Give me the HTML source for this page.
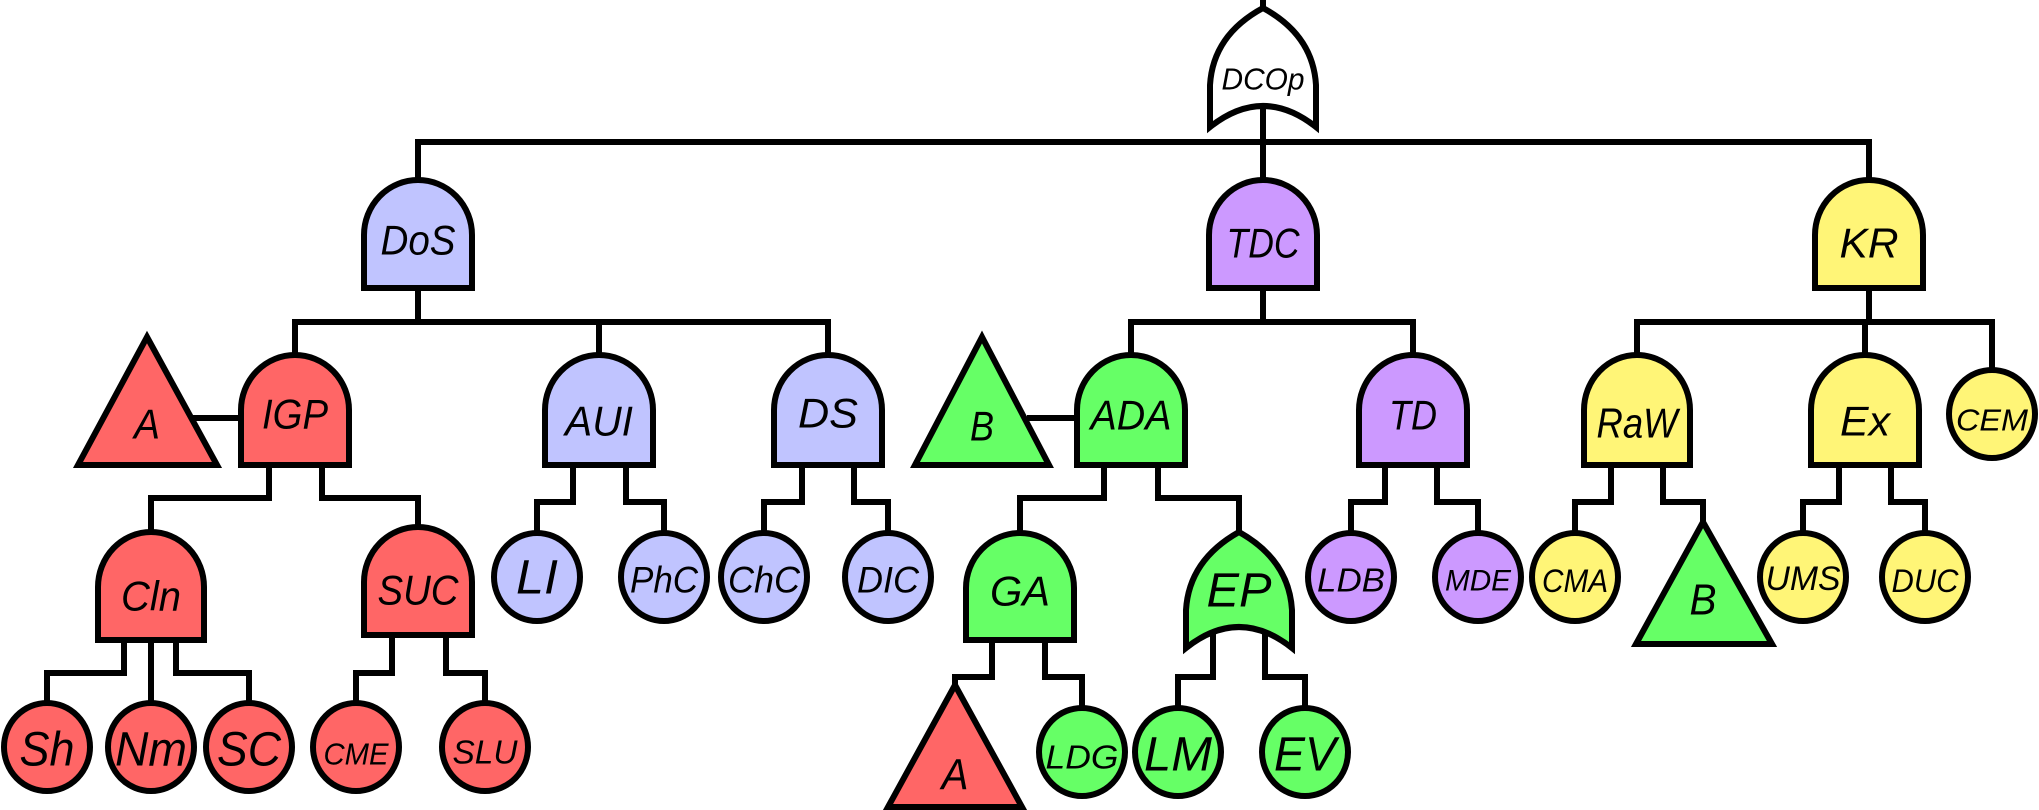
<!DOCTYPE html>
<html><head><meta charset="utf-8"><style>
html,body{margin:0;padding:0;background:#fff;}
svg{display:block;}
text{font-family:"Liberation Sans",Arial,sans-serif;font-style:italic;text-anchor:middle;dominant-baseline:central;fill:#000;}
</style></head><body>
<svg width="2039" height="810" viewBox="0 0 2039 810" xmlns="http://www.w3.org/2000/svg">
<g fill="none" stroke="#000" stroke-width="6" stroke-linejoin="miter" stroke-linecap="square">
<polyline points="1263,0 1263,8"/>
<polyline points="1263,107 1263,142"/>
<polyline points="418,180 418,142 1869,142 1869,180"/>
<polyline points="1263,142 1263,180"/>
<polyline points="418,288 418,322"/>
<polyline points="295,355 295,322 828,322 828,355"/>
<polyline points="599,322 599,355"/>
<polyline points="1263,288 1263,322"/>
<polyline points="1131,355 1131,322 1413,322 1413,355"/>
<polyline points="1869,288 1869,322"/>
<polyline points="1637,355 1637,322 1992,322 1992,369"/>
<polyline points="1865,322 1865,355"/>
<polyline points="195,418 242,418"/>
<polyline points="1030,418 1078,418"/>
<polyline points="269,465 269,498 151,498 151,532"/>
<polyline points="322,465 322,498 418,498 418,527"/>
<polyline points="573,465 573,502 537,502 537,532"/>
<polyline points="626,465 626,502 664,502 664,532"/>
<polyline points="802,465 802,502 764,502 764,532"/>
<polyline points="854,465 854,502 888,502 888,532"/>
<polyline points="124,640 124,673 47,673 47,702"/>
<polyline points="151,640 151,702"/>
<polyline points="176,640 176,673 249,673 249,702"/>
<polyline points="392,635 392,673 356,673 356,702"/>
<polyline points="446,635 446,673 485,673 485,702"/>
<polyline points="1104,465 1104,498 1020,498 1020,533"/>
<polyline points="1158,465 1158,498 1239,498 1239,532"/>
<polyline points="992,640 992,677 955,677 955,688"/>
<polyline points="1045,640 1045,677 1082,677 1082,707"/>
<polyline points="1213,628 1213,677 1178,677 1178,707"/>
<polyline points="1265,628 1265,677 1305,677 1305,707"/>
<polyline points="1385,465 1385,502 1351,502 1351,532"/>
<polyline points="1437,465 1437,502 1478,502 1478,532"/>
<polyline points="1611,465 1611,502 1575,502 1575,532"/>
<polyline points="1663,465 1663,502 1703,502 1703,525"/>
<polyline points="1839,465 1839,502 1803,502 1803,532"/>
<polyline points="1891,465 1891,502 1925,502 1925,532"/>
</g>

<g stroke="#000" stroke-width="6" stroke-linejoin="miter">
<path d="M1263,8 Q1213,35 1210,85 L1210,127 Q1263,85 1316,127 L1316,85 Q1313,35 1263,8 Z" fill="#fff"/>
<path d="M1239,532 Q1189,560 1186,610 L1186,648 Q1239,606 1292,648 L1292,610 Q1289,560 1239,532 Z" fill="#66ff66"/>
<path d="M364,288 L364,235 A54,55 0 0 1 472,235 L472,288 Z" fill="#c0c4ff"/>
<path d="M1209,288 L1209,235 A54,55 0 0 1 1317,235 L1317,288 Z" fill="#cc99ff"/>
<path d="M1815,288 L1815,235 A54,55 0 0 1 1923,235 L1923,288 Z" fill="#fff577"/>
<path d="M241,465 L241,410 A54,55 0 0 1 349,410 L349,465 Z" fill="#ff6666"/>
<path d="M545,465 L545,410 A54,55 0 0 1 653,410 L653,465 Z" fill="#c0c4ff"/>
<path d="M774,465 L774,410 A54,55 0 0 1 882,410 L882,465 Z" fill="#c0c4ff"/>
<path d="M1077,465 L1077,410 A54,55 0 0 1 1185,410 L1185,465 Z" fill="#66ff66"/>
<path d="M1359,465 L1359,410 A54,55 0 0 1 1467,410 L1467,465 Z" fill="#cc99ff"/>
<path d="M1584,465 L1584,410 A53,55 0 0 1 1690,410 L1690,465 Z" fill="#fff577"/>
<path d="M1811,465 L1811,410 A54,55 0 0 1 1919,410 L1919,465 Z" fill="#fff577"/>
<path d="M98,640 L98,587 A53,55 0 0 1 204,587 L204,640 Z" fill="#ff6666"/>
<path d="M364,635 L364,582 A54,55 0 0 1 472,582 L472,635 Z" fill="#ff6666"/>
<path d="M966,640 L966,588 A54,55 0 0 1 1074,588 L1074,640 Z" fill="#66ff66"/>
<polygon points="147,337 217,465 78,465" fill="#ff6666"/>
<polygon points="982,337 1049,465 915,465" fill="#66ff66"/>
<polygon points="955,685 1022,807 888,807" fill="#ff6666"/>
<polygon points="1703,522 1772,644 1636,644" fill="#66ff66"/>
<g fill="#c0c4ff">
<ellipse cx="537" cy="577" rx="43" ry="44"/>
<ellipse cx="664" cy="577" rx="43" ry="44"/>
<ellipse cx="764" cy="577" rx="43" ry="44"/>
<ellipse cx="888" cy="577" rx="43" ry="44"/>
</g>
<g fill="#cc99ff">
<ellipse cx="1351" cy="577" rx="43" ry="44"/>
<ellipse cx="1478" cy="577" rx="43" ry="44"/>
</g>
<g fill="#fff577">
<ellipse cx="1575" cy="577" rx="43" ry="44"/>
<ellipse cx="1803" cy="577" rx="43" ry="44"/>
<ellipse cx="1925" cy="577" rx="43" ry="44"/>
<ellipse cx="1992" cy="414" rx="43" ry="44"/>
</g>
<g fill="#ff6666">
<ellipse cx="47" cy="747" rx="43" ry="44"/>
<ellipse cx="151" cy="747" rx="43" ry="44"/>
<ellipse cx="249" cy="747" rx="43" ry="44"/>
<ellipse cx="356" cy="747" rx="43" ry="44"/>
<ellipse cx="485" cy="747" rx="43" ry="44"/>
</g>
<g fill="#66ff66">
<ellipse cx="1082" cy="752" rx="43" ry="44"/>
<ellipse cx="1178" cy="752" rx="43" ry="44"/>
<ellipse cx="1305" cy="752" rx="43" ry="44"/>
</g>
</g>

<g font-size="42">
<text x="1263" y="79" font-size="31" textLength="83" lengthAdjust="spacingAndGlyphs">DCOp</text>
<text x="418" y="240" textLength="75" lengthAdjust="spacingAndGlyphs">DoS</text>
<text x="1263" y="243" textLength="73" lengthAdjust="spacingAndGlyphs">TDC</text>
<text x="1869" y="243" textLength="59" lengthAdjust="spacingAndGlyphs">KR</text>
<text x="295" y="414" textLength="66" lengthAdjust="spacingAndGlyphs">IGP</text>
<text x="599" y="421" textLength="68" lengthAdjust="spacingAndGlyphs">AUI</text>
<text x="828" y="413" textLength="60" lengthAdjust="spacingAndGlyphs">DS</text>
<text x="1131" y="415" textLength="81" lengthAdjust="spacingAndGlyphs">ADA</text>
<text x="1413" y="415" textLength="48" lengthAdjust="spacingAndGlyphs">TD</text>
<text x="1637" y="423" textLength="81" lengthAdjust="spacingAndGlyphs">RaW</text>
<text x="1865" y="421" textLength="50" lengthAdjust="spacingAndGlyphs">Ex</text>
<text x="151" y="596" textLength="60" lengthAdjust="spacingAndGlyphs">Cln</text>
<text x="418" y="590" textLength="81" lengthAdjust="spacingAndGlyphs">SUC</text>
<text x="1020" y="591" textLength="60" lengthAdjust="spacingAndGlyphs">GA</text>
<text x="1239" y="591" font-size="48" textLength="65" lengthAdjust="spacingAndGlyphs">EP</text>
<text x="147" y="424" textLength="26" lengthAdjust="spacingAndGlyphs">A</text>
<text x="982" y="426" textLength="24" lengthAdjust="spacingAndGlyphs">B</text>
<text x="955" y="775" font-size="44" textLength="27" lengthAdjust="spacingAndGlyphs">A</text>
<text x="1703" y="600" font-size="44" textLength="27" lengthAdjust="spacingAndGlyphs">B</text>
<text x="537" y="578" font-size="48" textLength="42" lengthAdjust="spacingAndGlyphs">LI</text>
<text x="664" y="580" font-size="37" textLength="68" lengthAdjust="spacingAndGlyphs">PhC</text>
<text x="764" y="580" font-size="37" textLength="72" lengthAdjust="spacingAndGlyphs">ChC</text>
<text x="888" y="580" font-size="37" textLength="62" lengthAdjust="spacingAndGlyphs">DIC</text>
<text x="1351" y="580" font-size="33" textLength="68" lengthAdjust="spacingAndGlyphs">LDB</text>
<text x="1478" y="581" font-size="30" textLength="66" lengthAdjust="spacingAndGlyphs">MDE</text>
<text x="1575" y="581" font-size="32" textLength="66" lengthAdjust="spacingAndGlyphs">CMA</text>
<text x="1803" y="579" font-size="34" textLength="75" lengthAdjust="spacingAndGlyphs">UMS</text>
<text x="1925" y="581" font-size="32" textLength="67" lengthAdjust="spacingAndGlyphs">DUC</text>
<text x="1992" y="420" font-size="31" textLength="72" lengthAdjust="spacingAndGlyphs">CEM</text>
<text x="47" y="750" font-size="48" textLength="55" lengthAdjust="spacingAndGlyphs">Sh</text>
<text x="151" y="750" font-size="48" textLength="72" lengthAdjust="spacingAndGlyphs">Nm</text>
<text x="249" y="750" font-size="48" textLength="64" lengthAdjust="spacingAndGlyphs">SC</text>
<text x="356" y="754" font-size="31" textLength="65" lengthAdjust="spacingAndGlyphs">CME</text>
<text x="485" y="752" font-size="33" textLength="65" lengthAdjust="spacingAndGlyphs">SLU</text>
<text x="1082" y="757" font-size="33" textLength="73" lengthAdjust="spacingAndGlyphs">LDG</text>
<text x="1178" y="755" font-size="48" textLength="68" lengthAdjust="spacingAndGlyphs">LM</text>
<text x="1305" y="755" font-size="48" textLength="62" lengthAdjust="spacingAndGlyphs">EV</text>
</g>
</svg>
</body></html>
